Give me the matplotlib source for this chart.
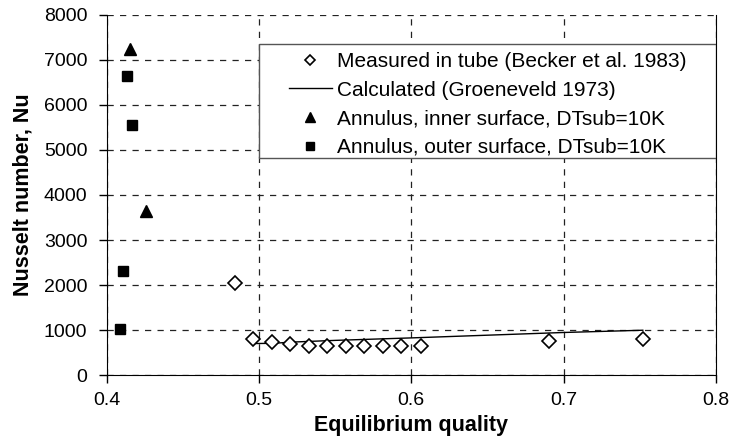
import matplotlib
matplotlib.use("Agg")
import matplotlib.pyplot as plt
from matplotlib.patches import Rectangle

plt.rcParams['font.family'] = ['Liberation Sans', 'DejaVu Sans']

# measured in tube (Becker et al. 1983)
meas_x = [0.4845, 0.4959, 0.5087, 0.5202, 0.5329, 0.5447, 0.5572, 0.569, 0.5816, 0.5934, 0.6061, 0.6907, 0.7523]
meas_y = [2040, 800, 740, 690, 650, 650, 650, 650, 650, 650, 650, 765, 815]

# calculated (Groeneveld 1973)
calc_x = [0.497, 0.51, 0.52, 0.55, 0.6, 0.7, 0.752]
calc_y = [705, 710, 735, 775, 830, 950, 1000]

# annulus, inner surface
inner_x = [0.415, 0.426]
inner_y = [7230, 3650]

# annulus, outer surface
outer_x = [0.413, 0.4165, 0.411, 0.409]
outer_y = [6630, 5550, 2310, 1030]

fig = plt.figure(figsize=(7.32, 4.45), dpi=100)
ax = fig.add_axes([0.1458, 0.1566, 0.8322, 0.8104])

ax.plot(meas_x, meas_y, linestyle='none', marker='D', markersize=7,
        markerfacecolor='white', markeredgecolor='black', markeredgewidth=1.2,
        label='Measured in tube (Becker et al. 1983)', zorder=4)
ax.plot(calc_x, calc_y, color='black', linewidth=1.0,
        label='Calculated (Groeneveld 1973)', zorder=3)
ax.plot(inner_x, inner_y, linestyle='none', marker='^', markersize=9,
        color='black', label='Annulus, inner surface, DTsub=10K', zorder=4)
ax.plot(outer_x, outer_y, linestyle='none', marker='s', markersize=7.5,
        color='black', label='Annulus, outer surface, DTsub=10K', zorder=4)

ax.set_xlim(0.4, 0.8)
ax.set_ylim(0, 8000)
ax.set_xticks([0.4, 0.5, 0.6, 0.7, 0.8])
ax.set_xticklabels(['0.4', '0.5', '0.6', '0.7', '0.8'])
ax.set_yticks(range(0, 8001, 1000))

ax.grid(True, linestyle=(0, (5, 5)), color='#222222', linewidth=0.9)
ax.spines['top'].set_visible(False)
ax.spines['right'].set_linewidth(0.8)
ax.tick_params(direction='out', length=6, width=1, labelsize=14,
               right=False, top=False)
ax.tick_params(axis='y', pad=8)
ax.tick_params(axis='x', pad=6)

ax.set_xlabel('Equilibrium quality', fontsize=15.5, fontweight='bold', labelpad=4)
ax.set_ylabel('Nusselt number, Nu', fontsize=15.5, fontweight='bold', labelpad=7)

# legend box
box = Rectangle((0.25, 0.6026), 0.75, 0.3161, transform=ax.transAxes,
                facecolor='white', edgecolor='#555555', linewidth=1.0, zorder=5)
ax.add_patch(box)
leg = ax.legend(loc='upper left', bbox_to_anchor=(0.299, 0.896),
                fontsize=15, numpoints=1, frameon=False, handlelength=2.07,
                borderpad=0, labelspacing=0.46, handletextpad=0.25,
                borderaxespad=0, markerscale=0.75)
leg.set_zorder(6)

fig.savefig('out.png', dpi=100)
